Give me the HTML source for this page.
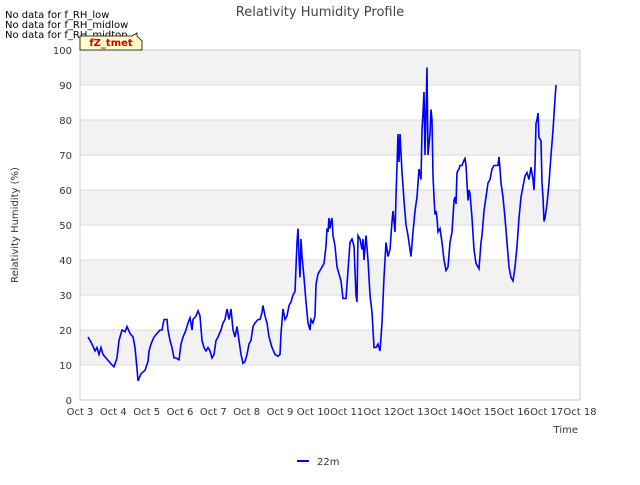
<!DOCTYPE html>
<html><head><meta charset="utf-8"><style>
body{margin:0;background:#fff;font-family:"Liberation Sans","DejaVu Sans",sans-serif}
svg text{font-family:"DejaVu Sans","Liberation Sans",sans-serif}
</style></head><body>
<svg id="chart" width="640" height="480" xmlns="http://www.w3.org/2000/svg">
<rect width="640" height="480" fill="#fff"/>
<g id="bands"></g>
<g id="grid"></g>
<rect x="80" y="50" width="500" height="350" fill="none" stroke="#ccc"/>
<g id="yticks"></g><g id="xticks"></g>
<path id="line" fill="none" stroke="#0000ff" stroke-width="1.6"/>
<text x="320" y="16" text-anchor="middle" font-size="13" fill="#444">Relativity Humidity Profile</text>
<text x="18" y="225" text-anchor="middle" font-size="10" fill="#333" transform="rotate(-90 18 225)">Relativity Humidity (%)</text>
<text x="578" y="433" text-anchor="end" font-size="10" fill="#333">Time</text>
<text x="5" y="18" font-size="10" fill="#000">No data for f_RH_low</text>
<text x="5" y="28" font-size="10" fill="#000">No data for f_RH_midlow</text>
<text x="5" y="38" font-size="10" fill="#000">No data for f_RH_midtop</text>
<g>
<path d="M80,50 L80,36 L132,36 L137,33 L137,36 L142,41 L142,50 Z" fill="#ffffcc" stroke="#000" stroke-width="0.8"/>
<text x="111" y="46" text-anchor="middle" font-size="10" fill="#cc0000" font-weight="bold">fZ_tmet</text>
</g>
<g>
<line x1="297" y1="461" x2="309" y2="461" stroke="#0000ff" stroke-width="2"/>
<text x="317" y="465" font-size="10" fill="#333">22m</text>
</g>
</svg>
<script>
const xTickLabels=["Oct 3","Oct 4","Oct 5","Oct 6","Oct 7","Oct 8","Oct 9","Oct 10","Oct 11","Oct 12","Oct 13","Oct 14","Oct 15","Oct 16","Oct 17","Oct 18"];
const yTickLabels=[0,10,20,30,40,50,60,70,80,90,100];
const times=[0.24,0.36,0.45,0.51,0.57,0.63,0.69,0.78,0.87,0.96,1.02,1.11,1.17,1.26,1.35,1.41,1.5,1.59,1.65,1.71,1.74,1.83,1.95,2.04,2.07,2.13,2.22,2.31,2.4,2.46,2.52,2.61,2.64,2.7,2.76,2.82,2.88,2.97,3.03,3.09,3.18,3.24,3.3,3.36,3.39,3.48,3.54,3.6,3.66,3.72,3.78,3.84,3.9,3.96,4.02,4.08,4.14,4.23,4.29,4.35,4.41,4.47,4.53,4.59,4.65,4.71,4.77,4.83,4.89,4.95,5.01,5.07,5.13,5.19,5.25,5.34,5.4,5.46,5.49,5.55,5.61,5.67,5.76,5.85,5.94,6.0,6.03,6.09,6.15,6.21,6.27,6.33,6.39,6.45,6.48,6.51,6.54,6.57,6.6,6.63,6.66,6.72,6.78,6.84,6.9,6.93,6.99,7.05,7.08,7.14,7.2,7.26,7.32,7.38,7.41,7.44,7.47,7.5,7.53,7.56,7.59,7.65,7.71,7.77,7.83,7.89,7.98,8.04,8.1,8.16,8.22,8.28,8.31,8.34,8.4,8.46,8.49,8.52,8.58,8.64,8.7,8.76,8.82,8.88,8.94,9.0,9.06,9.12,9.18,9.24,9.3,9.36,9.39,9.45,9.48,9.51,9.54,9.57,9.6,9.66,9.72,9.78,9.84,9.9,9.93,9.99,10.05,10.11,10.17,10.23,10.26,10.29,10.32,10.35,10.38,10.41,10.44,10.5,10.53,10.56,10.59,10.62,10.65,10.68,10.71,10.74,10.8,10.86,10.92,10.98,11.04,11.1,11.16,11.22,11.25,11.28,11.31,11.37,11.4,11.46,11.52,11.55,11.58,11.61,11.64,11.67,11.7,11.76,11.82,11.88,11.94,11.97,12.03,12.06,12.12,12.18,12.24,12.3,12.36,12.42,12.48,12.54,12.57,12.6,12.63,12.69,12.75,12.81,12.87,12.93,12.99,13.05,13.11,13.17,13.23,13.29,13.35,13.41,13.47,13.53,13.59,13.62,13.65,13.68,13.71,13.74,13.77,13.83,13.86,13.89,13.92,13.95,14.01,14.07,14.13,14.19,14.25,14.28];
const rh22m=[18,16,14,15,13,15,13,12,11,10,9.5,12,17,20,19.5,21,19,18,15,9,5.5,7.5,8.5,11,14,16,18,19,20,20,23,23,20,17,15,12,12,11.5,16,18,20,22,23.5,20,23,24,25.5,24,17,15,14,15,14,12,13,17,18,20,22,23,26,23,26,20,18,21,17,13,10.5,11,13,16,17,21,22,23,23,25,27,24,22,18,15,13,12.5,13,19,26,23,24,27,28,30,31,38,45,49,41,35,46,41,35,28,22,20,23,22,24,33,36,37,38,39,44,49,48,52,49,51,52,47,44,38,36,34,29,29,37,45,46,44,30,28,47,46,43,46,40,47,40,30,25,15,15,16,14,22,35,45,41,43,51,54,48,58,67,76,68,76,65,57,50,47,43,41,48,54,58,66,63,77,82,88,70,82,95,70,76,83,80,64,58,53,54,52,48,49,45,40,37,38,45,48,57,58,56,65,66,67,67,68.5,69,67,62,57,60,59,52,43,39,38,37.5,45,47,54,58,62,63,66,67,67,67,69.5,66,62,58,52,45,38,35,34,38,44,52,58,61,64,65,63,66.5,63,60,67,79,80,82,75,74,62,58,51,52,56,62,70,77,86,90];
const X0=80,X1=580,Y0=400,Y1=50;
const xs=d=>X0+(d/15)*(X1-X0), ys=v=>Y0-(v/100)*(Y0-Y1);
const NS="http://www.w3.org/2000/svg";
const mk=(t,a,p)=>{const e=document.createElementNS(NS,t);for(const k in a)e.setAttribute(k,a[k]);document.getElementById(p).appendChild(e);return e;};
for(let i=0;i<yTickLabels.length-1;i+=2){
 const b=mk('rect',{x:X0,y:ys(yTickLabels[i+2]||100),width:X1-X0,height:ys(yTickLabels[i+1])-ys(yTickLabels[i+2]||100),fill:'#f2f2f2'},'bands');
 
 
}
yTickLabels.forEach(v=>{
 const l=mk('line',{x1:X0,x2:X1,y1:ys(v),y2:ys(v),stroke:'#dcdcdc'},'grid');
 
 
 const t=mk('text',{x:X0-8,y:ys(v)+4,'text-anchor':'end','font-size':10,fill:'#333'},'yticks');
 
 
 t.textContent=v;
});
xTickLabels.forEach((s,i)=>{
 const t=mk('text',{x:xs(i),y:Y0+15,'text-anchor':'middle','font-size':10,fill:'#333'},'xticks');
 
 
 t.textContent=s;
});
document.getElementById('line').setAttribute('d',times.map((t,i)=>(i?'L':'M')+xs(t).toFixed(1)+','+ys(rh22m[i]).toFixed(1)).join(''));
</script>
</body></html>
